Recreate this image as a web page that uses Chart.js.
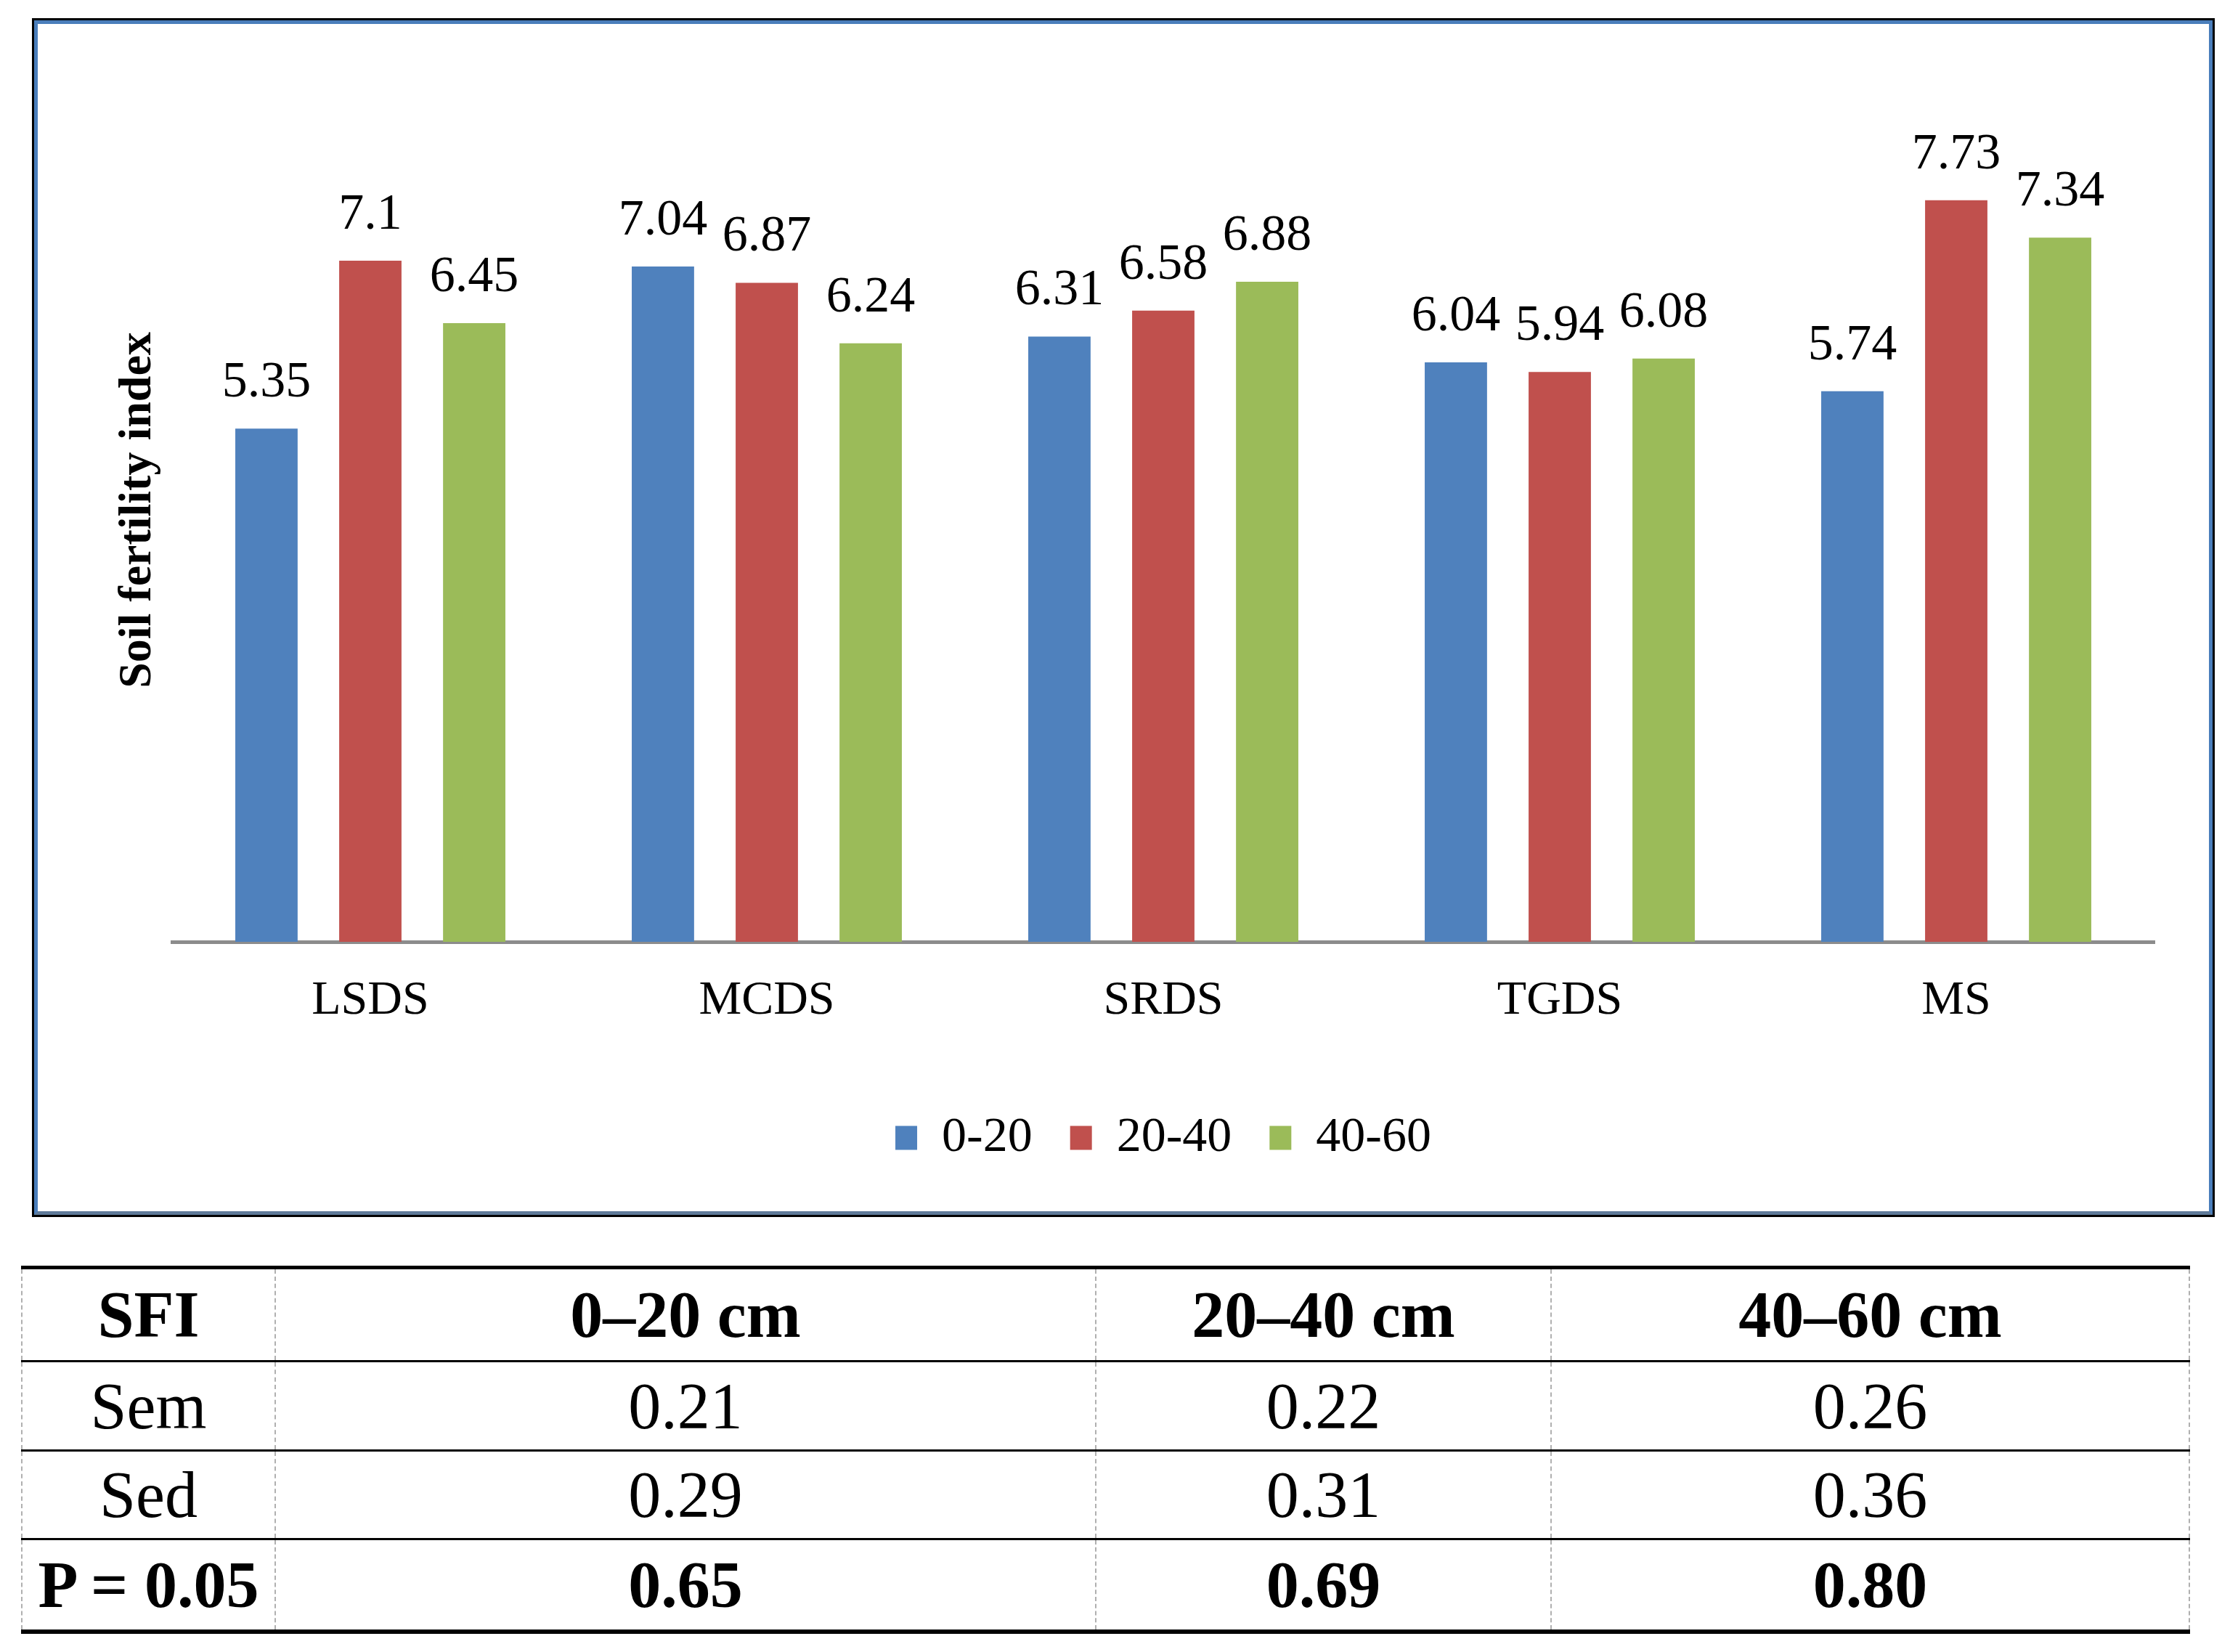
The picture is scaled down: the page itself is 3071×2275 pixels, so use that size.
<!DOCTYPE html>
<html>
<head>
<meta charset="utf-8">
<script src="https://cdn.jsdelivr.net/npm/chart.js@4/dist/chart.umd.min.js"></script>
<style>
  html, body { margin: 0; padding: 0; background: #fff; }
  body { width: 3071px; height: 2275px; position: relative; overflow: hidden; font-family: "Liberation Serif", "Times New Roman", serif; }
  #frame { position: absolute; left: 44px; top: 25px; width: 3000px; height: 1645px; border: 3px solid #000; }
  #inner { position: absolute; left: 0; top: 0; right: 0; bottom: 0; border: 5px solid #4a7ebb; border-bottom-color: #5f7a99; }
  #wrap { position: absolute; left: 0; top: 0; width: 2990px; height: 1635px; }
  .tbl { position: absolute; left: 29px; top: 1743px; width: 2987px; border-top: 5px solid #000; border-bottom: 6px solid #000; }
  .row { display: flex; border-bottom: 3px solid #000; }
  .row:last-child { border-bottom: none; }
  .cell { box-sizing: border-box; display: flex; align-items: center; justify-content: center; font-size: 90px; border-right: 2px dashed #b0b0b0; }
  .cell:first-child { border-left: 2px dashed #b0b0b0; }
  .bold .cell { font-weight: bold; }
</style>
</head>
<body>
<div id="frame"><div id="inner"><div id="wrap"><canvas id="chart"></canvas></div></div></div>
<div class="tbl" id="tbl"></div>
<script>
'use strict';

const CATEGORIES = ['LSDS', 'MCDS', 'SRDS', 'TGDS', 'MS'];
const DEPTH_0_20 = [5.35, 7.04, 6.31, 6.04, 5.74];
const DEPTH_20_40 = [7.1, 6.87, 6.58, 5.94, 7.73];
const DEPTH_40_60 = [6.45, 6.24, 6.88, 6.08, 7.34];
const SERIES_NAMES = ['0-20', '20-40', '40-60'];

const TABLE_HEAD = ['SFI', '0–20 cm', '20–40 cm', '40–60 cm'];
const TABLE_ROWS = [
  ['Sem', '0.21', '0.22', '0.26'],
  ['Sed', '0.29', '0.31', '0.36'],
  ['P = 0.05', '0.65', '0.69', '0.80'],
];

const COLORS = ['#4f81bd', '#c0504d', '#9bbb59'];
const SERIF = '"Liberation Serif", "Times New Roman", serif';

// stats table under the chart
const colWidths = [351, 1130, 627, 879];
const rowHeights = [125, 120, 119, 123];
const tbl = document.getElementById('tbl');
[TABLE_HEAD, ...TABLE_ROWS].forEach((cells, r) => {
  const row = document.createElement('div');
  row.className = 'row' + (r === 0 || r === TABLE_ROWS.length ? ' bold' : '');
  row.style.height = rowHeights[r] + 'px';
  cells.forEach((text, c) => {
    const cell = document.createElement('div');
    cell.className = 'cell';
    cell.style.width = colWidths[c] + 'px';
    cell.textContent = text;
    row.appendChild(cell);
  });
  tbl.appendChild(row);
});

// value labels above each bar
const barLabels = {
  id: 'barLabels',
  afterDatasetsDraw(chart) {
    const { ctx } = chart;
    ctx.save();
    ctx.font = '70px ' + SERIF;
    ctx.fillStyle = '#000';
    ctx.textAlign = 'center';
    ctx.textBaseline = 'alphabetic';
    chart.data.datasets.forEach((ds, i) => {
      chart.getDatasetMeta(i).data.forEach((bar, j) => {
        ctx.fillText(String(ds.data[j]), bar.x, bar.y - 44);
      });
    });
    ctx.restore();
  },
};

Chart.defaults.color = '#000';
Chart.defaults.font.family = SERIF;

new Chart(document.getElementById('chart'), {
  type: 'bar',
  data: {
    labels: CATEGORIES,
    datasets: [DEPTH_0_20, DEPTH_20_40, DEPTH_40_60].map((values, i) => ({
      label: SERIES_NAMES[i],
      data: values,
      backgroundColor: COLORS[i],
      borderWidth: 0,
      barPercentage: 0.6,
      categoryPercentage: 0.786,
    })),
  },
  options: {
    responsive: true,
    maintainAspectRatio: false,
    animation: false,
    layout: { padding: { left: 96, right: 75, top: 75, bottom: 57 } },
    plugins: {
      legend: {
        position: 'bottom',
        fullSize: false,
        labels: {
          boxWidth: 30,
          boxHeight: 33,
          padding: 52,
          font: { size: 68 },
          color: '#000',
        },
      },
      tooltip: { enabled: false },
    },
    scales: {
      x: {
        grid: { display: false, drawTicks: false },
        border: { display: true, color: '#8c8c8c', width: 5 },
        ticks: { padding: 42, font: { size: 66 }, color: '#000' },
        afterFit: (scale) => { scale.height = 184; },
      },
      y: {
        min: 0,
        max: 9,
        grid: { display: false, drawTicks: false },
        border: { display: false },
        ticks: { display: false },
        title: {
          display: true,
          text: 'Soil fertility index',
          font: { size: 64, weight: 'bold' },
          color: '#000',
        },
        afterFit: (scale) => { scale.width = 89; },
      },
    },
  },
  plugins: [barLabels],
});
</script>
</body>
</html>
